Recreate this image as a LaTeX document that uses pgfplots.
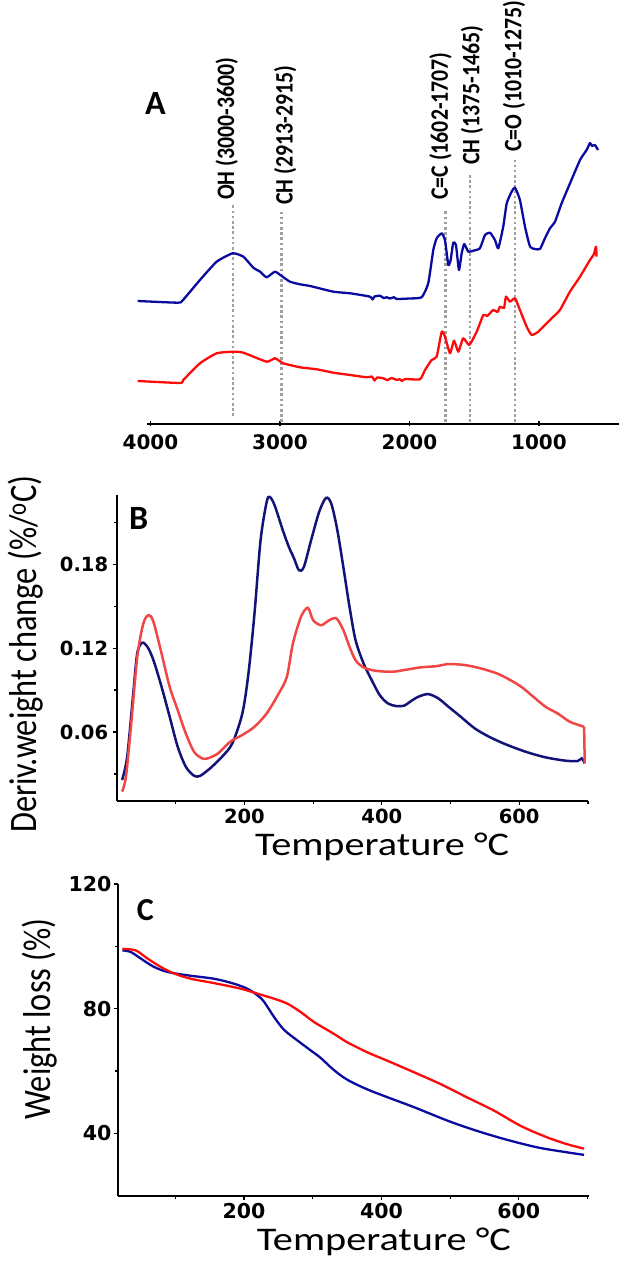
\documentclass[border=0pt]{standalone}
\usepackage{fontspec}
\usepackage{graphicx}
\usepackage{pgfplots}
\pgfplotsset{compat=1.18}
\setmainfont{Carlito}
\newfontfamily\tickfont{DejaVu Sans}
\definecolor{ablue}{RGB}{10,10,160}
\definecolor{bblue}{RGB}{18,18,120}
\definecolor{ared}{RGB}{255,10,10}
\definecolor{bred}{RGB}{240,70,70}
\definecolor{dotgray}{RGB}{160,160,160}
\begin{document}
\begin{tikzpicture}[x=1pt,y=1pt]
\path[use as bounding box] (0,0) rectangle (633,1261);

% ---------------- Panel A ----------------
\begin{axis}[
  at={(147pt,837pt)}, anchor=south west,
  scale only axis, width=472pt, height=424pt,
  xmin=382, xmax=4027, ymin=0, ymax=424,
  x dir=reverse, clip=false,
  axis x line=bottom, axis y line=none,
  axis line style={-, line width=1.8pt, black},
  xtick={1000,2000,3000,4000}, xticklabels={1000,2000,3000,4000},
  scaled x ticks=false,
  tick align=center, major tick length=5pt,
  xtick style={black, line width=1.2pt},
  xticklabel style={inner sep=0pt, yshift=-8pt},
  tick label style={font=\tickfont\bfseries\fontsize{20}{22}\selectfont},
]
% dotted guide lines
\addplot[dotgray, line width=2.6pt, dash pattern=on 2.6pt off 2.6pt] coordinates {(3363,8) (3363,219)};
\addplot[dotgray, line width=2.6pt, dash pattern=on 2.6pt off 2.6pt] coordinates {(2987,2) (2987,212)};
\addplot[dotgray, line width=2.6pt, dash pattern=on 2.6pt off 2.6pt] coordinates {(1720,2) (1720,213)};
\addplot[dotgray, line width=2.6pt, dash pattern=on 2.6pt off 2.6pt] coordinates {(1533,2) (1533,249)};
\addplot[dotgray, line width=2.6pt, dash pattern=on 2.6pt off 2.6pt] coordinates {(1185,2) (1185,264)};
% blue spectrum
\addplot[ablue, line width=2.3pt, line join=round, smooth, tension=0.3] coordinates {
(4099,123)(3788,121.3)(3749,124)(3618,144)(3489,162.3)(3365,170.7)(3283,167.3)(3206,156.3)(3154,152.3)(3103,146.7)(3039,152.3)(2987,148)(2923,142.3)(2846,139.7)(2768,138)(2588,132.3)(2459,130.7)(2330,128)(2300,127)(2285,124.5)(2270,127.5)(2228,128.3)(2200,126)(2176,126.7)(2150,125.5)(2120,126.8)(2099,125)(2000,125.5)(1906,126.7)(1855,140.7)(1816,174)(1790,185.7)(1751,190.7)(1726,184)(1700,159)(1682,164)(1662,181.3)(1641,179)(1618,154)(1597,170.7)(1577,180)(1546,172.3)(1507,173.3)(1456,175.7)(1417,189)(1378,191.3)(1340,184)(1314,175.7)(1276,197.3)(1249,220.7)(1211,232.3)(1185,236.3)(1147,224)(1108,197.3)(1069,177.3)(1031,175)(992,175)(954,185.7)(915,195.7)(876,202.3)(825,220.7)(760,240.7)(683,264)(632,274)(606,281)(590,278)(568,279)(544,274)};
% red spectrum
\addplot[ared, line width=2.3pt, line join=round, smooth, tension=0.3] coordinates {
(4099,43)(3772,41)(3747,44)(3618,60.7)(3489,70.7)(3361,72.3)(3283,71.3)(3103,62.3)(3039,65.7)(2975,60.7)(2846,56.7)(2717,54.7)(2588,51.3)(2459,49)(2330,46.7)(2290,47.5)(2270,43.5)(2250,46.5)(2202,45.7)(2170,43.8)(2140,46)(2100,44.2)(2073,44.7)(2060,43)(2030,45)(1919,44.7)(1880,54)(1829,64)(1790,67.3)(1751,92.3)(1726,87.3)(1687,70.7)(1656,83.3)(1623,72.3)(1585,85.7)(1538,79)(1481,92.3)(1430,109)(1400,108)(1353,114)(1320,112)(1301,117.3)(1270,116)(1255,127.3)(1224,122.3)(1185,125.7)(1147,114)(1095,97.3)(1056,89)(1005,92.3)(954,99)(902,105.7)(838,114)(761,132.3)(683,147.3)(606,164)(575,170)(560,177.3)(555,167.3)};
% annotations
\node[rotate=90, anchor=west, inner sep=0pt] at (axis cs:3412,224) {\scalebox{1}[1.15]{\fontsize{21.8}{24}\selectfont\bfseries OH (3000-3600)}};
\node[rotate=90, anchor=west, inner sep=0pt] at (axis cs:2959,219) {\scalebox{1}[1.15]{\fontsize{21.8}{24}\selectfont\bfseries CH (2913-2915)}};
\node[rotate=90, anchor=west, inner sep=0pt] at (axis cs:1761,224) {\scalebox{1}[1.15]{\fontsize{21.8}{24}\selectfont\bfseries C=C (1602-1707)}};
\node[rotate=90, anchor=west, inner sep=0pt] at (axis cs:1517,259) {\scalebox{1}[1.15]{\fontsize{21.8}{24}\selectfont\bfseries CH (1375-1465)}};
\node[rotate=90, anchor=west, inner sep=0pt] at (axis cs:1193,272) {\scalebox{1}[1.15]{\fontsize{21.8}{24}\selectfont\bfseries C=O (1010-1275)}};
\end{axis}
\node[anchor=base west, inner sep=0pt] at (145,1146) {\fontsize{34}{36}\selectfont\bfseries A};

% ---------------- Panel B ----------------
\begin{axis}[
  at={(117.3pt,460.3pt)}, anchor=south west,
  scale only axis, width=470.6pt, height=305.7pt,
  xmin=15, xmax=700, ymin=0.0109, ymax=0.2295,
  axis x line=bottom, axis y line=left,
  axis line style={-, line width=1.8pt, black},
  xtick={200,400,600}, xticklabels={200,400,600},
  minor xtick={100,300,500,700},
  ytick={0.06,0.12,0.18}, yticklabels={0.06,0.12,0.18},
  minor ytick={0.03,0.09,0.15,0.21},
  scaled y ticks=false,
  tick align=outside, major tick length=4pt, minor tick length=3pt,
  tick style={black, line width=1.2pt},
  xticklabel style={inner sep=0pt, yshift=-4.6pt},
  yticklabel style={inner sep=0pt, xshift=-5pt},
  tick label style={font=\tickfont\bfseries\fontsize{19.5}{21}\selectfont},
]
\addplot[bblue, line width=2.5pt, smooth, tension=0.5] coordinates {
(22,0.0257)(29.4,0.0424)(38.2,0.0876)(44,0.1162)(51,0.1238)(58.8,0.1210)(67.6,0.1114)(79.4,0.0924)(91.2,0.0710)(102.9,0.0495)(114.7,0.0352)(126.5,0.0288)(135.3,0.0286)(150,0.034)(167.6,0.0424)(182.4,0.0519)(197,0.0733)(205.9,0.1019)(214.7,0.1448)(223.5,0.197)(232.4,0.2245)(237,0.2281)(244,0.2221)(255.9,0.2043)(264.7,0.1924)(272.4,0.184)(279.4,0.1757)(286.5,0.178)(297,0.197)(308.8,0.2174)(318.8,0.2274)(326.5,0.2233)(335.3,0.2043)(344,0.178)(353,0.1495)(361.8,0.1257)(373.5,0.109)(385.3,0.0971)(397,0.0864)(408.8,0.0805)(420.6,0.0786)(432.4,0.0788)(441.2,0.0817)(453,0.0852)(467.6,0.0871)(482.4,0.084)(497,0.0781)(514.7,0.0710)(535.3,0.0626)(555.9,0.0567)(579.4,0.0514)(608.8,0.046)(638.2,0.0419)(667.6,0.0395)(685.3,0.0393)(691,0.0412)(695.3,0.0376)};
\addplot[bred, line width=2.5pt, smooth, tension=0.5] coordinates {
(22,0.0174)(27.6,0.0281)(35.3,0.0662)(44.1,0.1138)(52.9,0.1376)(60.6,0.1436)(67.6,0.1388)(79.4,0.1162)(91.2,0.0924)(102.9,0.0757)(114.7,0.0590)(126.5,0.0460)(138.2,0.0412)(147,0.0412)(161.8,0.0448)(179.4,0.0531)(197,0.0579)(214.7,0.0638)(232.4,0.0733)(250,0.0876)(261.8,0.0995)(270.6,0.1233)(282.4,0.1424)(292.4,0.1488)(300,0.14)(311.8,0.1364)(323.5,0.14)(334,0.1412)(344,0.1329)(353,0.121)(361.8,0.1114)(373.5,0.1062)(391,0.1038)(414.7,0.1031)(432.4,0.1043)(455.9,0.1062)(479.4,0.1071)(497,0.1086)(520.6,0.1079)(544.1,0.1055)(567.6,0.1019)(585.3,0.0976)(602.9,0.0924)(620.6,0.0852)(638.2,0.0781)(655.9,0.0733)(673.5,0.0674)(691,0.0643)(694.5,0.0638)};
\addplot[bred, line width=2.5pt] coordinates {(694.5,0.0638)(695.3,0.04)(695.3,0.0376)};
\end{axis}
\node[anchor=base west, inner sep=0pt] at (129,731) {\fontsize{34}{36}\selectfont\bfseries B};
\node[rotate=90, anchor=base west, inner sep=0pt] at (36.7,428) {\scalebox{1}[1.2]{\fontsize{32.4}{34}\selectfont Deriv.weight change (\%/\textsuperscript{o}C)}};
\node[anchor=base west, inner sep=0pt] at (255,405) {\scalebox{1.22}[1]{\fontsize{33}{35}\selectfont Temperature °C}};

% ---------------- Panel C ----------------
\begin{axis}[
  at={(118.3pt,65.3pt)}, anchor=south west,
  scale only axis, width=470.6pt, height=311.7pt,
  xmin=17, xmax=702, ymin=20, ymax=120,
  axis x line=bottom, axis y line=left,
  axis line style={-, line width=1.8pt, black},
  xtick={200,400,600}, xticklabels={200,400,600},
  minor xtick={100,300,500,700},
  ytick={40,80,120}, yticklabels={40,80,120},
  minor ytick={60,100},
  tick align=outside, major tick length=4pt, minor tick length=3pt,
  tick style={black, line width=1.2pt},
  xticklabel style={inner sep=0pt, yshift=-3pt},
  yticklabel style={inner sep=0pt, xshift=-2.6pt},
  tick label style={font=\tickfont\bfseries\fontsize{20.5}{22}\selectfont},
]
\addplot[ablue, line width=2.3pt, smooth] coordinates {
(23,98.7)(35,98.2)(49.6,96.1)(69,93.4)(88.5,91.8)(117.6,90.7)(156.4,89.6)(185.5,88)(204.9,86.4)(219.5,84.3)(229.2,82.2)(243.8,77.3)(258.3,73.2)(277.7,69.8)(297.1,66.6)(311.6,64.2)(326.2,61.2)(340.7,58.6)(355.3,56.6)(379.5,54.1)(408.6,51.6)(447.4,48.4)(495.9,44.1)(534.7,41.1)(578.4,38.2)(626.9,35.5)(670.6,33.9)(694.9,33.1)};
\addplot[ared, line width=2.3pt, smooth] coordinates {
(23,99.2)(42.4,98.7)(59.4,96.1)(78.8,93.4)(98.2,91.3)(122.5,89.6)(156.4,88.2)(195.3,86.4)(224.4,84.5)(243.8,83.2)(263.2,81.6)(282.6,78.9)(302,75.7)(331,71.9)(350.4,69.2)(379.5,66)(408.6,63.3)(447.4,59.6)(486.2,55.8)(525,51.5)(563.8,47.3)(602.6,42.4)(641.4,38.7)(670.6,36.5)(694.9,35.1)};
\end{axis}
\node[anchor=base west, inner sep=0pt] at (136.7,340.3) {\fontsize{32}{34}\selectfont\bfseries C};
\node[rotate=90, anchor=base west, inner sep=0pt] at (50,141) {\scalebox{1}[1.2]{\fontsize{32.4}{34}\selectfont Weight loss (\%)}};
\node[anchor=base west, inner sep=0pt] at (256.7,10) {\scalebox{1.22}[1]{\fontsize{33}{35}\selectfont Temperature °C}};
\end{tikzpicture}
\end{document}
